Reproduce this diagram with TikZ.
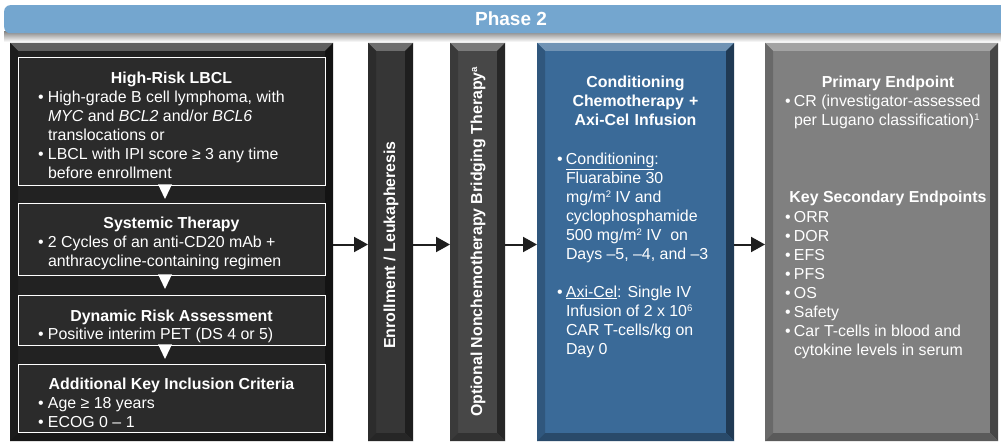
\documentclass[tikz,border=0pt]{standalone}
\usepackage{fontspec}
\setmainfont{Liberation Sans}
\usetikzlibrary{arrows.meta}
\definecolor{banner}{HTML}{74A6CF}
\definecolor{blk}{HTML}{222222}
\definecolor{inbox}{HTML}{2B2B2B}
\definecolor{barA}{HTML}{363636}
\definecolor{barB}{HTML}{474747}
\definecolor{blu}{HTML}{3A6A98}
\definecolor{gry}{HTML}{808080}
\newlength\bw \setlength\bw{10pt}
\newcommand\bl{\makebox[\bw][l]{•}}
\newcommand\ind{\hspace*{\bw}}
\newcommand\blist[2]{\parbox[t]{#1}{\raggedright #2}}
\newcommand\fs{\fontsize{15.9}{19}\selectfont}
\newcommand\sups[1]{\raisebox{5pt}{\fontsize{9.5}{10}\selectfont #1}}
\tikzset{
  bevel/.style={fill=#1, inner sep=0pt, outer sep=0pt, anchor=north west, path picture={
    \shade[top color=#1!72!white, bottom color=#1] (path picture bounding box.north west) -- (path picture bounding box.north east) -- ([xshift=-8pt,yshift=-8pt]path picture bounding box.north east) -- ([xshift=8pt,yshift=-8pt]path picture bounding box.north west) -- cycle;
    \fill[#1!82!black] (path picture bounding box.north west) -- ([xshift=8pt,yshift=-8pt]path picture bounding box.north west) -- ([xshift=8pt,yshift=8pt]path picture bounding box.south west) -- (path picture bounding box.south west) -- cycle;
    \fill[#1!55!black] (path picture bounding box.north east) -- ([xshift=-8pt,yshift=-8pt]path picture bounding box.north east) -- ([xshift=-8pt,yshift=8pt]path picture bounding box.south east) -- (path picture bounding box.south east) -- cycle;
    \fill[#1!70!black] (path picture bounding box.south west) -- ([xshift=8pt,yshift=8pt]path picture bounding box.south west) -- ([xshift=-8pt,yshift=8pt]path picture bounding box.south east) -- (path picture bounding box.south east) -- cycle;
  }},
  inb/.style={draw=white, line width=1.4pt, fill=inbox, inner sep=0pt, anchor=north west},
  txt/.style={text=white, inner sep=0pt, outer sep=0pt, font=\fs},
  ttl/.style={txt, font=\fs\bfseries, anchor=base},
  lst/.style={txt, anchor=base west},
  arr/.style={draw=black!88, line width=2pt, -{Triangle[length=14pt,width=15pt]}},
  tri/.style={fill=white},
}
\begin{document}
\begin{tikzpicture}[x=1pt,y=-1pt]
\useasboundingbox[fill=white] (0,0) rectangle (1001,444);
% banner
\shade[top color=black!45, bottom color=white] (4,32) rectangle (1001,42);
\node[fill=banner, rounded corners=6pt, minimum width=1014pt, minimum height=28pt, inner sep=0pt, anchor=north west] (ban) at (4,5) {};
\node[txt, font=\fontsize{19}{22}\selectfont\bfseries] (phase) at (511,19) {Phase 2};
% columns
\node[bevel=blk, minimum width=323pt, minimum height=398pt] (elig) at (10,43) {};
\node[bevel=barA, minimum width=45pt, minimum height=398pt] (enr) at (368,43) {};
\node[bevel=barB, minimum width=55pt, minimum height=398pt] (brg) at (450,43) {};
\node[bevel=blu, minimum width=197pt, minimum height=398pt] (cond) at (537,43) {};
\node[bevel=gry, minimum width=233pt, minimum height=398pt] (endp) at (765,43) {};
% inner boxes
\node[inb, minimum width=307pt, minimum height=128pt] (b1) at (18,57) {};
\node[inb, minimum width=307pt, minimum height=72pt] (b2) at (18,203) {};
\node[inb, minimum width=307pt, minimum height=50pt] (b3) at (18,295) {};
\node[inb, minimum width=307pt, minimum height=68pt] (b4) at (18,364) {};
% pointers
\fill[tri] (158,184.3) -- (172,184.3) -- (165,199) -- cycle;
\fill[tri] (158,274.3) -- (172,274.3) -- (165,289) -- cycle;
\fill[tri] (158,344.3) -- (172,344.3) -- (165,359) -- cycle;
% box texts
\node[ttl] (t1) at (171.5,83) {High-Risk LBCL};
\node[lst] (l1) at (38,102) {\blist{285pt}{\bl High-grade B cell lymphoma, with\\\ind\textit{MYC} and \textit{BCL2} and/or \textit{BCL6}\\\ind translocations or\\\bl LBCL with IPI score ≥ 3 any time\\\ind before enrollment}};
\node[ttl] (t2) at (171.5,228) {Systemic Therapy};
\node[lst] (l2) at (38,247) {\blist{285pt}{\bl 2 Cycles of an anti-CD20 mAb +\\\ind anthracycline-containing regimen}};
\node[ttl] (t3) at (171.5,321) {Dynamic Risk Assessment};
\node[lst] (l3) at (38,339) {\blist{285pt}{\bl Positive interim PET (DS 4 or 5)}};
\node[ttl] (t4) at (171.5,389) {Additional Key Inclusion Criteria};
\node[lst] (l4) at (38,408) {\blist{285pt}{\bl Age ≥ 18 years\\\bl ECOG 0 – 1}};
% vertical bars
\node[txt, font=\fs\bfseries, rotate=90] (enrt) at (391,245) {Enrollment / Leukapheresis};
\node[txt, font=\fs\bfseries, rotate=90] (brgt) at (478,242) {Optional Nonchemotherapy Bridging Therapy\sups{a}};
% conditioning
\node[ttl, text width=190pt, align=center] (ct) at (635.5,88) {Conditioning\\Chemotherapy +\\Axi-Cel Infusion};
\setlength\bw{9pt}
\node[lst] (cl) at (557,164) {\blist{175pt}{\bl\underline{Conditioning}:\\\ind Fluarabine 30\\\ind mg/m\sups{2} IV and\\\ind cyclophosphamide\\\ind 500 mg/m\sups{2} IV\ \ on\\\ind Days –5, –4, and –3\\[19pt]\bl\underline{Axi-Cel}: Single IV\\\ind Infusion of 2 x 10\sups{6}\\\ind CAR T-cells/kg on\\\ind Day 0}};
% endpoints
\node[ttl] (pt) at (888,87) {Primary Endpoint};
\node[lst] (pl) at (785,106) {\blist{210pt}{\bl CR (investigator-assessed\\\ind per Lugano classification)\sups{1}}};
\node[ttl] (st) at (888,202) {Key Secondary Endpoints};
\node[lst] (sl) at (785,222) {\blist{210pt}{\bl ORR\\\bl DOR\\\bl EFS\\\bl PFS\\\bl OS\\\bl Safety\\\bl Car T-cells in blood and\\\ind cytokine levels in serum}};
% arrows
\draw[arr] ([yshift=-2.5pt]elig.east) -- ([yshift=-2.5pt]enr.west);
\draw[arr] ([yshift=-2.5pt]enr.east) -- ([yshift=-2.5pt]brg.west);
\draw[arr] ([yshift=-2.5pt]brg.east) -- ([yshift=-2.5pt]cond.west);
\draw[arr] ([yshift=-2.5pt]cond.east) -- ([yshift=-2.5pt]endp.west);
\end{tikzpicture}
\end{document}
